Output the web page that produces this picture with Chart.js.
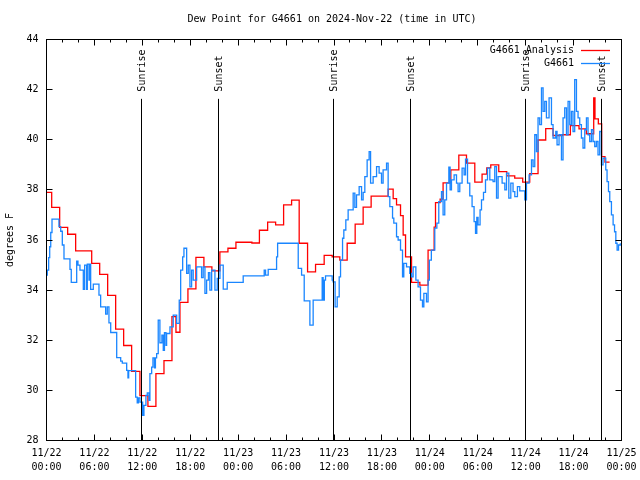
<!DOCTYPE html>
<html>
<head>
<meta charset="utf-8">
<title>Dew Point for G4661</title>
<script src="https://cdn.jsdelivr.net/npm/chart.js@4.4.1/dist/chart.umd.min.js"></script>
<style>
  html, body { margin: 0; padding: 0; background: #fff; }
</style>
</head>
<body>
<canvas id="chart" width="640" height="480"></canvas>
<script>
// ===============================
// DATA (hours since 2024-11-22 00:00 UTC)
// ===============================
const analysisHours = [0, 0.65, 1.65, 2.65, 3.65, 5.66, 6.66, 7.66, 8.66, 9.66,
  10.66, 11.7, 12.7, 13.7, 14.71, 15.71, 16.21, 16.71, 17.71, 18.71,
  19.71, 20.71, 21.71, 22.72, 23.72, 25.72, 26.66, 27.69, 28.69, 29.69,
  30.69, 31.64, 32.69, 33.69, 34.77, 35.77, 36.73, 37.65, 38.65, 39.65,
  40.65, 42.78, 43.41, 43.83, 44.33, 44.66, 44.96, 45.71, 46.75, 47.78,
  48.54, 48.71, 49.29, 49.66, 50.63, 51.63, 52.59, 53.63, 54.54, 55.13,
  55.63, 56.63, 57.63, 58.63, 59.63, 60.51, 61.55, 62.51, 63.43, 64.6,
  65.6, 66.68, 67.6, 68.52, 68.68, 69.1, 69.52, 69.93, 70.51];
const analysisDewPt = [37.9, 37.3, 36.5, 36.23, 35.57, 35.07, 34.63, 33.79, 32.44, 31.79,
  30.76, 29.79, 29.36, 30.67, 31.19, 32.94, 32.32, 33.51, 34.05, 35.31,
  34.93, 34.77, 35.53, 35.67, 35.91, 35.88, 36.39, 36.71, 36.6, 37.4,
  37.59, 35.87, 34.73, 35.03, 35.39, 35.33, 35.2, 35.87, 36.63, 37.31,
  37.75, 38.03, 37.65, 37.4, 36.97, 36.2, 35.33, 34.31, 34.2, 35.6,
  36.51, 37.49, 37.63, 38.28, 38.8, 39.39, 39.07, 38.31, 38.63, 38.88,
  39.0, 38.73, 38.56, 38.47, 38.31, 38.65, 39.99, 40.44, 40.17, 40.2,
  40.56, 40.43, 40.24, 41.67, 40.83, 40.63, 39.33, 39.11, 39.11];

const obsHours = [0, 0.1, 0.27, 0.4, 0.53, 0.69, 1.56, 1.78, 1.98, 2.19,
  2.94, 3.1, 3.78, 3.94, 4.19, 4.61, 4.78, 5.03, 5.11, 5.32,
  5.41, 5.53, 5.86, 6.57, 6.78, 7.41, 7.61, 7.82, 8.04, 8.79,
  9.29, 9.49, 10.04, 10.2, 10.29, 11.16, 11.36, 11.51, 11.7, 12.04,
  12.2, 12.45, 12.62, 12.83, 12.95, 13.17, 13.33, 13.52, 13.64, 13.79,
  13.99, 14.2, 14.45, 14.62, 14.77, 14.96, 15.04, 15.46, 15.87, 16.3,
  16.62, 16.8, 17.05, 17.21, 17.55, 17.75, 17.96, 18.17, 18.37, 18.8,
  19.42, 19.62, 19.84, 20.05, 20.28, 20.46, 20.68, 21.09, 21.38, 21.72,
  22.13, 22.63, 24.63, 27.26, 27.43, 27.76, 28.81, 28.94, 31.52, 31.94,
  32.27, 32.98, 33.39, 34.52, 34.64, 34.79, 34.94, 35.77, 35.89, 36.14,
  36.4, 36.65, 36.82, 37.07, 37.23, 37.48, 37.77, 38.4, 38.61, 38.82,
  39.15, 39.45, 39.65, 39.86, 40.15, 40.4, 40.58, 40.9, 41.33, 41.65,
  41.95, 42.15, 42.58, 42.78, 42.99, 43.33, 43.49, 43.83, 44.03, 44.33,
  44.58, 44.74, 45.08, 45.49, 45.71, 45.91, 46.25, 46.53, 46.83, 47.08,
  47.25, 47.58, 47.78, 47.94, 48.19, 48.62, 48.88, 49.12, 49.46, 49.66,
  49.87, 50.09, 50.38, 50.54, 50.71, 51.04, 51.34, 51.54, 51.75, 52.04,
  52.29, 52.47, 52.72, 53.0, 53.29, 53.54, 53.72, 53.88, 54.04, 54.29,
  54.47, 54.72, 54.97, 55.22, 55.51, 55.92, 56.13, 56.35, 56.55, 57.05,
  57.39, 57.6, 57.89, 58.14, 58.42, 58.64, 58.97, 59.26, 59.89, 60.1,
  60.43, 60.73, 60.93, 61.14, 61.35, 61.55, 61.76, 61.98, 62.18, 62.39,
  62.6, 62.93, 63.23, 63.43, 63.77, 63.93, 64.18, 64.48, 64.68, 64.89,
  65.11, 65.31, 65.52, 65.73, 65.93, 66.14, 66.36, 66.56, 66.77, 66.98,
  67.18, 67.4, 67.61, 67.81, 68.02, 68.24, 68.44, 68.65, 68.86, 69.06,
  69.27, 69.49, 69.69, 70.03, 70.19, 70.37, 70.53, 70.74, 70.95, 71.13,
  71.29, 71.45, 71.63, 71.85];
const obsDewPt = [34.6, 34.8, 35.3, 35.73, 36.3, 36.83, 36.53, 36.35, 35.8, 35.25,
  34.83, 34.31, 35.16, 35.0, 34.8, 34.03, 35.0, 34.03, 35.04, 34.4,
  35.04, 34.03, 34.24, 33.8, 33.33, 33.04, 33.33, 32.69, 32.31, 31.31,
  31.17, 31.09, 30.8, 30.5, 30.79, 29.73, 29.5, 29.7, 29.53, 29.0,
  29.4, 29.8, 29.9, 29.6, 30.67, 30.93, 31.3, 30.9, 31.3, 31.47,
  32.8, 31.9, 32.2, 31.6, 32.3, 31.8, 32.27, 32.53, 33.0, 32.67,
  33.6, 34.8, 35.33, 35.67, 34.67, 35.0, 34.13, 34.8, 34.4, 34.93,
  34.5, 34.93, 33.87, 34.4, 34.7, 34.0, 34.8, 34.0, 34.47, 35.0,
  34.04, 34.31, 34.57, 34.8, 34.6, 34.83, 35.33, 35.87, 34.87, 34.6,
  33.57, 32.6, 33.6, 34.5, 33.6, 34.4, 34.57, 34.4, 34.33, 33.33,
  33.73, 34.53, 35.2, 36.07, 36.4, 36.8, 37.2, 37.87, 37.3, 37.8,
  38.13, 37.6, 37.9, 38.53, 39.2, 39.53, 38.27, 38.53, 38.93, 38.67,
  38.27, 38.8, 39.07, 37.73, 37.33, 36.87, 36.67, 36.13, 36.0, 35.6,
  34.53, 35.07, 34.93, 34.67, 34.53, 34.93, 34.4, 34.13, 33.6, 33.33,
  33.87, 33.53, 34.4, 35.2, 35.6, 36.47, 36.67, 37.53, 37.93, 37.0,
  37.6, 38.27, 38.91, 38.0, 38.4, 38.6, 38.27, 37.93, 38.27, 38.87,
  38.6, 39.23, 38.27, 37.76, 37.33, 36.73, 36.27, 36.9, 36.6, 37.2,
  37.6, 37.9, 38.4, 38.87, 38.4, 38.33, 38.93, 37.67, 38.53, 38.27,
  38.0, 38.67, 37.67, 38.27, 37.93, 37.73, 38.13, 37.96, 37.6, 38.27,
  38.6, 39.2, 38.93, 40.2, 39.53, 40.87, 40.6, 42.07, 41.13, 41.53,
  40.87, 41.67, 40.6, 40.07, 40.33, 39.8, 40.2, 39.2, 40.87, 41.27,
  40.2, 41.53, 40.6, 41.13, 40.33, 42.4, 41.13, 40.87, 40.6, 40.07,
  39.67, 40.4, 40.87, 40.2, 39.93, 40.4, 39.93, 39.73, 39.93, 39.4,
  40.33, 39.0, 39.27, 38.8, 38.33, 37.93, 37.53, 37.0, 36.6, 36.33,
  35.87, 35.6, 35.8, 35.87];

const sunHours = [11.86, 21.53, 35.9, 45.56, 59.93, 69.44];
const sunLabels = ["Sunrise", "Sunset", "Sunrise", "Sunset", "Sunrise", "Sunset"];

const xTickLabels = [
  ["11/22", "00:00"], ["11/22", "06:00"], ["11/22", "12:00"], ["11/22", "18:00"],
  ["11/23", "00:00"], ["11/23", "06:00"], ["11/23", "12:00"], ["11/23", "18:00"],
  ["11/24", "00:00"], ["11/24", "06:00"], ["11/24", "12:00"], ["11/24", "18:00"],
  ["11/25", "00:00"]
];

const TITLE = "Dew Point for G4661 on 2024-Nov-22 (time in UTC)";
const FAMILY = '"DejaVu Sans Mono", "Liberation Mono", monospace';
const FONT = "10px " + FAMILY;

// ===============================
// DECORATION (gnuplot look)
// ===============================
const gnuplotDecor = {
  id: "gnuplotDecor",
  afterDatasetsDraw(chart) {
    const { ctx, chartArea: a, scales: { x, y } } = chart;
    const L = Math.floor(a.left) + 0.5, R = Math.floor(a.right) + 0.5;
    const T = Math.floor(a.top) + 0.5, B = Math.floor(a.bottom) + 0.5;
    ctx.save();
    ctx.strokeStyle = "#000";
    ctx.fillStyle = "#000";
    ctx.lineWidth = 1;
    ctx.font = FONT;

    // sunrise / sunset markers
    const h = a.bottom - a.top;
    sunHours.forEach((hr, i) => {
      const px = Math.floor(x.getPixelForValue(hr)) + 0.5;
      ctx.beginPath();
      ctx.moveTo(px, a.bottom - 0.852 * h);
      ctx.lineTo(px, B);
      ctx.stroke();
      ctx.save();
      ctx.translate(px + 1, a.bottom - 0.87 * h);
      ctx.rotate(-Math.PI / 2);
      ctx.textAlign = "left";
      ctx.textBaseline = "middle";
      ctx.fillText(sunLabels[i], 0, 0);
      ctx.restore();
    });

    // border
    ctx.strokeRect(L, T, R - L, B - T);

    // x ticks (major every 6h, minor every 2h), drawn inward top & bottom
    ctx.beginPath();
    for (let v = x.min; v <= x.max; v += 2) {
      const px = Math.floor(x.getPixelForValue(v)) + 0.5;
      const len = v % 6 === 0 ? 6 : 3;
      ctx.moveTo(px, B); ctx.lineTo(px, B - len);
      ctx.moveTo(px, T); ctx.lineTo(px, T + len);
    }
    // y ticks, inward left & right
    y.ticks.forEach(t => {
      const py = Math.floor(y.getPixelForValue(t.value)) + 0.5;
      ctx.moveTo(L, py); ctx.lineTo(L + 6, py);
      ctx.moveTo(R, py); ctx.lineTo(R - 6, py);
    });
    ctx.stroke();

    // title
    ctx.textAlign = "center";
    ctx.textBaseline = "middle";
    ctx.fillText(TITLE, (a.left + a.right) / 2 - 2, 19.5);

    // legend (text right-aligned, sample line to the right)
    ctx.textAlign = "right";
    chart.data.datasets.forEach((ds, i) => {
      const ly = 50 + i * 13.5;
      ctx.fillStyle = "#000";
      ctx.fillText(ds.label, 574, ly);
      ctx.strokeStyle = ds.borderColor;
      ctx.lineWidth = 1.3;
      ctx.beginPath();
      ctx.moveTo(581, Math.floor(ly) + 0.5);
      ctx.lineTo(610, Math.floor(ly) + 0.5);
      ctx.stroke();
    });
    ctx.restore();
  }
};

// ===============================
// CHART
// ===============================
function toPoints(xs, ys) {
  return xs.map((v, i) => ({ x: v, y: ys[i] }));
}

new Chart(document.getElementById("chart"), {
  type: "line",
  data: {
    datasets: [
      {
        label: "G4661 Analysis",
        data: toPoints(analysisHours, analysisDewPt),
        borderColor: "#ff0000",
        borderWidth: 1.3,
        stepped: true,
        pointRadius: 0,
        order: 1
      },
      {
        label: "G4661",
        data: toPoints(obsHours, obsDewPt),
        borderColor: "#1a86ff",
        borderWidth: 1.3,
        stepped: true,
        pointRadius: 0,
        order: 0
      }
    ]
  },
  options: {
    responsive: false,
    animation: false,
    devicePixelRatio: 1,
    events: [],
    layout: { padding: { left: 0.5, right: 18.5, top: 39.5, bottom: 0 } },
    plugins: { legend: { display: false }, tooltip: { enabled: false }, title: { display: false } },
    scales: {
      x: {
        type: "linear",
        min: 0,
        max: 72,
        grid: { display: false, drawTicks: false },
        border: { display: false },
        afterFit: s => { s.height = 39.5; s.paddingLeft = 0; s.paddingRight = 0; },
        ticks: {
          stepSize: 6,
          autoSkip: false,
          maxRotation: 0,
          padding: 6,
          color: "#000",
          font: { family: FAMILY, size: 10, lineHeight: 1.4 },
          callback: (v, i) => xTickLabels[i]
        }
      },
      y: {
        min: 28,
        max: 44,
        grid: { display: false, drawTicks: false },
        border: { display: false },
        afterFit: s => { s.width = 46; },
        title: {
          display: true,
          text: "degrees F",
          color: "#000",
          padding: { top: 4, bottom: 0 },
          font: { family: FAMILY, size: 10 }
        },
        ticks: {
          stepSize: 2,
          padding: 8,
          color: "#000",
          font: { family: FAMILY, size: 10 }
        }
      }
    }
  },
  plugins: [gnuplotDecor]
});
</script>
</body>
</html>
